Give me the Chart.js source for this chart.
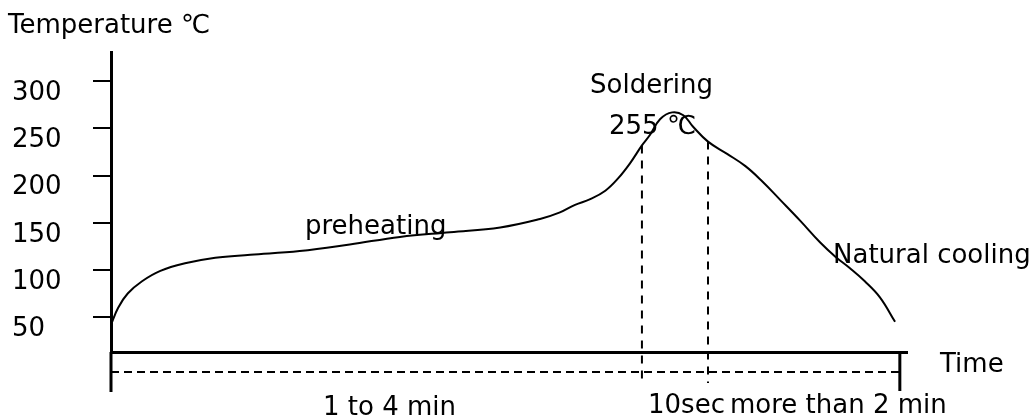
<!DOCTYPE html>
<html>
<head>
<meta charset="utf-8">
<script src="https://cdn.jsdelivr.net/npm/chart.js@4"></script>
<style>
  body { margin: 0; background: #fff; }
  #wrap { width: 1035px; height: 419px; }
</style>
</head>
<body>
<div id="wrap"><canvas id="profileChart" width="1035" height="419"></canvas></div>
<script>
// reflow soldering profile (time in % of axis, temp in deg C)
const timePct = [0, 0.9, 2.1, 3.9, 6.2, 9.3, 13.1, 17.5, 23.7, 30.0, 36.3, 42.6, 48.9, 53.9,
  56.4, 58.3, 60.2, 62.1, 63.7, 65.2, 66.7, 67.7, 69.0, 70.5, 71.9, 73.1, 75.0, 77.4,
  79.7, 81.8, 84.1, 86.6, 89.1, 91.0, 92.8, 94.7, 96.6, 98.5];
const tempC = [42, 60, 75, 88, 99, 107, 113, 116, 120, 127, 135, 140, 145, 154,
  161, 169, 175, 184, 197, 213, 232, 243, 260, 267, 264, 252, 236, 223,
  210, 194, 174, 152, 129, 114, 102, 88, 71, 45];
const yTicks = [50, 100, 150, 200, 250, 300];
const solderMarks = [66.7, 75.0];   // dashed verticals around the peak
const axisEnd = 99.1;

const FONT = '26px "DejaVu Sans", Verdana, sans-serif';

const notes = [
  { text: 'Temperature \u2103', x: 8, y: 33 },
  { text: 'Soldering', x: 590, y: 93 },
  { text: '255 \u2103', x: 609, y: 134 },
  { text: 'preheating', x: 305, y: 234 },
  { text: 'Natural cooling', x: 833, y: 263 },
  { text: 'Time', x: 940, y: 372 },
  { text: '1 to 4 min', x: 323, y: 415 },
  { text: '10sec', x: 648, y: 413 },
  { text: 'more than 2 min', x: 730, y: 413 }
];

const extras = {
  id: 'extras',
  afterDraw(chart) {
    const { ctx, chartArea, scales } = chart;
    const xs = scales.x;
    const bottom = chartArea.bottom;
    ctx.save();
    ctx.strokeStyle = '#000';

    // y axis carries on below the time axis
    ctx.lineWidth = 3;
    ctx.beginPath();
    ctx.moveTo(chartArea.left, bottom);
    ctx.lineTo(chartArea.left, bottom + 40);
    ctx.stroke();

    // end bar
    const xe = xs.getPixelForValue(axisEnd);
    ctx.beginPath();
    ctx.moveTo(xe, bottom);
    ctx.lineTo(xe, bottom + 39);
    ctx.stroke();

    // dashed span line
    ctx.lineWidth = 2;
    ctx.setLineDash([8, 5]);
    ctx.beginPath();
    ctx.moveTo(chartArea.left, bottom + 20);
    ctx.lineTo(xe, bottom + 20);
    ctx.stroke();

    // dashed markers from the curve down
    ctx.setLineDash([8, 7]);
    const meta = chart.getDatasetMeta(0);
    solderMarks.forEach(v => {
      const i = timePct.indexOf(v);
      const px = xs.getPixelForValue(v);
      const top = meta.data[i].y;
      ctx.beginPath();
      ctx.moveTo(px, top);
      ctx.lineTo(px, bottom + 31);
      ctx.stroke();
    });
    ctx.setLineDash([]);

    ctx.fillStyle = '#000';
    ctx.font = FONT;
    ctx.textAlign = 'left';
    ctx.textBaseline = 'alphabetic';
    notes.forEach(n => ctx.fillText(n.text, n.x, n.y));
    ctx.restore();
  }
};

new Chart(document.getElementById('profileChart'), {
  type: 'line',
  data: {
    datasets: [{
      data: timePct.map((t, i) => ({ x: t, y: tempC[i] })),
      borderColor: '#000',
      borderWidth: 2,
      pointRadius: 0,
      tension: 0.4,
      fill: false
    }]
  },
  options: {
    responsive: false,
    animation: false,
    devicePixelRatio: 1,
    layout: { padding: { top: 52, right: 128, left: 12, bottom: 0 } },
    plugins: { legend: { display: false }, tooltip: { enabled: false } },
    scales: {
      x: {
        type: 'linear',
        min: 0,
        max: 100,
        grid: { display: false },
        ticks: { display: false },
        border: { display: true, color: '#000', width: 3 },
        afterFit(scale) { scale.height = 67; }
      },
      y: {
        min: 13,
        max: 331,
        afterBuildTicks(scale) { scale.ticks = yTicks.map(v => ({ value: v })); },
        afterFit(scale) { scale.width = 99; },
        grid: { drawOnChartArea: false, drawTicks: true, tickLength: 18, color: '#000', lineWidth: 2 },
        border: { display: true, color: '#000', width: 3 },
        ticks: {
          color: '#000',
          font: { family: '"DejaVu Sans", Verdana, sans-serif', size: 26 },
          padding: 0,
          crossAlign: 'far',
          labelOffset: 12
        }
      }
    }
  },
  plugins: [extras]
});
</script>
</body>
</html>
